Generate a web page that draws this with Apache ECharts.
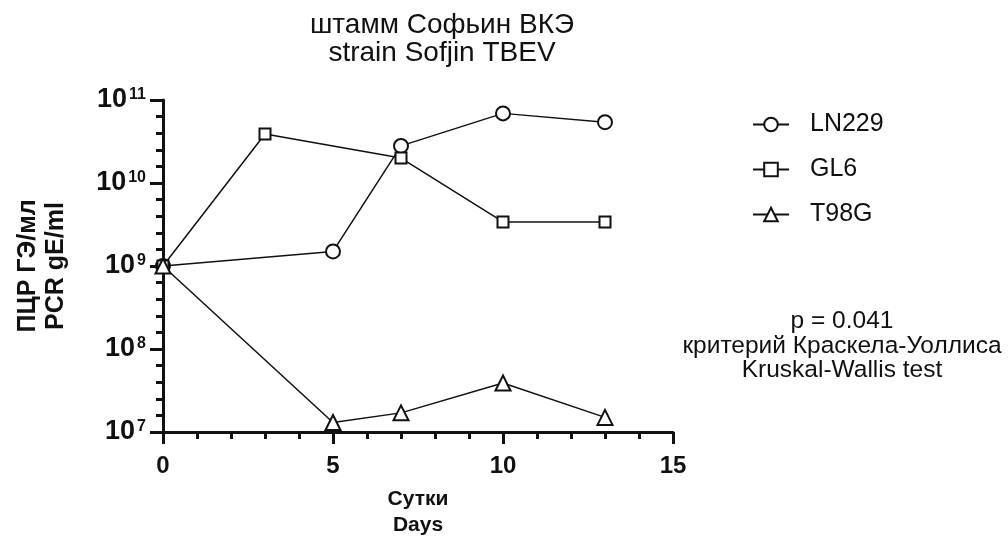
<!DOCTYPE html>
<html>
<head>
<meta charset="utf-8">
<script src="https://cdn.jsdelivr.net/npm/echarts@6/dist/echarts.min.js"></script>
<style>html,body{margin:0;padding:0;background:#fff}#c{width:1008px;height:542px}</style>
</head>
<body>
<div id="c"></div>
<script>
// ---- data ----
const days_LN229 = [0, 5, 7, 10, 13];
const vals_LN229 = [1.0e9, 1.5e9, 2.8e10, 6.9e10, 5.4e10];
const days_GL6 = [0, 3, 7, 10, 13];
const vals_GL6 = [1.0e9, 3.9e10, 2.0e10, 3.4e9, 3.4e9];
const days_T98G = [0, 5, 7, 10, 13];
const vals_T98G = [1.0e9, 1.3e7, 1.7e7, 3.9e7, 1.5e7];
const seriesNames = ['LN229', 'GL6', 'T98G'];
const titleLines = ['штамм Софьин ВКЭ', 'strain Sofjin TBEV'];
const yNameLines = ['ПЦР ГЭ/мл', 'PCR gE/ml'];
const xNameLines = ['Сутки', 'Days'];
const noteLines = ['p = 0.041', 'критерий Краскела-Уоллиса', 'Kruskal-Wallis test'];
const yDecades = [7, 11]; // log10 range of the y axis

const FONT = '"Liberation Sans", Arial, Helvetica, sans-serif';
const INK = '#111';

function pairs(xs, ys) { return xs.map((x, i) => [x, ys[i]]); }

const chart = echarts.init(document.getElementById('c'), null, {renderer: 'canvas'});
const lineStyle = {color: INK, width: 1.5};
const itemStyle = {color: INK, borderWidth: 1.5};

chart.setOption({
  animation: false,
  backgroundColor: '#fff',
  grid: {left: 163, right: 335, top: 100, bottom: 110, outerBoundsMode: 'none'},
  xAxis: {
    type: 'value', min: 0, max: 15, interval: 5,
    name: xNameLines.join('\n'), nameLocation: 'middle', nameGap: 54,
    nameTextStyle: {fontFamily: FONT, fontSize: 21, fontWeight: 'bold', color: INK, lineHeight: 26},
    axisLine: {show: true, lineStyle: {color: INK, width: 3}},
    axisTick: {show: true, length: 12, lineStyle: {color: INK, width: 3}},
    minorTick: {show: true, splitNumber: 5, length: 7, lineStyle: {color: INK, width: 3}},
    splitLine: {show: false},
    axisLabel: {fontFamily: FONT, fontSize: 24, fontWeight: 'bold', color: INK, margin: 22, showMinLabel: true, showMaxLabel: true}
  },
  yAxis: [{
    type: 'log', logBase: 10, min: Math.pow(10, yDecades[0]), max: Math.pow(10, yDecades[1]),
    name: yNameLines.join('\n'), nameLocation: 'middle', nameRotate: 90, nameGap: 93,
    nameTextStyle: {fontFamily: FONT, fontSize: 25, fontWeight: 'bold', color: INK, lineHeight: 28},
    axisLine: {show: true, lineStyle: {color: INK, width: 3}},
    axisTick: {show: true, length: 13, lineStyle: {color: INK, width: 3}},
    minorTick: {show: false},
    splitLine: {show: false},
    axisLabel: {
      margin: 17, color: INK,
      formatter: function (v) { return '{b|10}{e|' + Math.round(Math.log10(v)) + '}'; },
      rich: {
        b: {fontFamily: FONT, fontSize: 27, fontWeight: 'bold', color: INK},
        e: {fontFamily: FONT, fontSize: 16, fontWeight: 'bold', color: INK, verticalAlign: 'top', padding: [0, 0, 0, 2]}
      }
    }
  }, {
    // helper axis in log10 units: only draws the evenly spaced minor ticks of each decade
    type: 'value', min: yDecades[0], max: yDecades[1], interval: 1, position: 'left',
    axisLine: {show: false}, axisTick: {show: false}, axisLabel: {show: false}, splitLine: {show: false},
    minorTick: {show: true, splitNumber: 5, length: 7, lineStyle: {color: INK, width: 3}}
  }],
  legend: {
    orient: 'vertical', left: 752, top: 112, itemGap: 20, padding: 0,
    itemWidth: 36, itemHeight: 17,
    data: seriesNames,
    textStyle: {fontFamily: FONT, fontSize: 25, color: INK, padding: [0, 0, 0, 16]}
  },
  graphic: [
    {type: 'text', x: 442, y: 39, style: {text: titleLines.join('\n'), fontFamily: FONT, fontSize: 28, lineHeight: 28, fill: INK, align: 'center', verticalAlign: 'middle'}},
    {type: 'text', x: 842, y: 346, style: {text: noteLines.join('\n'), fontFamily: FONT, fontSize: 24.5, lineHeight: 24.5, fill: INK, align: 'center', verticalAlign: 'middle'}}
  ],
  series: [
    {name: seriesNames[0], type: 'line', data: pairs(days_LN229, vals_LN229), symbol: 'emptyCircle', symbolSize: 14, lineStyle: lineStyle, itemStyle: itemStyle, z: 3},
    {name: seriesNames[1], type: 'line', data: pairs(days_GL6, vals_GL6), symbol: 'emptyRect', symbolSize: 11, lineStyle: lineStyle, itemStyle: itemStyle, z: 3},
    {name: seriesNames[2], type: 'line', data: pairs(days_T98G, vals_T98G), symbol: 'emptyTriangle', symbolSize: 15, lineStyle: lineStyle, itemStyle: itemStyle, z: 3}
  ]
});
</script>
</body>
</html>
